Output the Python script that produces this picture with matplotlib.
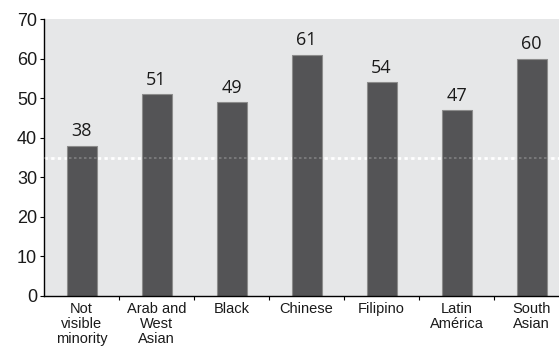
import numpy as np
import matplotlib.pyplot as plt

categories = ["Not\nvisible\nminority", "Arab and\nWest\nAsian", "Black", "Chinese",
              "Filipino", "Latin\nAmérica", "South\nAsian"]
values = [38, 51, 49, 61, 54, 47, 60]
reference_level = 35
yticks = [0, 10, 20, 30, 40, 50, 60, 70]

plt.rcParams['font.family'] = ['Liberation Sans', 'DejaVu Sans']

fig = plt.figure(figsize=(5.59, 3.49), dpi=100)
# axes run slightly past the right edge of the figure
ax = fig.add_axes([44 / 559, 53 / 349, 525 / 559, 277 / 349])
ax.set_facecolor('#e6e7e8')

x = np.arange(len(categories))
ax.axhline(reference_level, color='white', lw=2, ls=(0, (1.2, 1.2)), zorder=1)
bars = ax.bar(x, values, width=0.4, color='#545456', edgecolor='#8c8c8c',
              linewidth=0.8, zorder=2)
ax.axhline(reference_level, color='white', lw=1.2, ls=(0, (1.5, 1.5)),
           alpha=0.25, zorder=3)

for xi, v in zip(x, values):
    ax.text(xi, v + 1.3, str(v), ha='center', va='bottom', fontsize=13,
            color='#1a1a1a', family=['Open Sans', 'DejaVu Sans'])

ax.set_xlim(-0.5, len(categories) - 0.5)
ax.set_ylim(0, 70)
ax.set_yticks(yticks)
ax.tick_params(axis='y', labelsize=13, length=3, width=0.8, pad=2,
               labelcolor='#1a1a1a')

ax.set_xticks(x)
ax.set_xticklabels(categories, fontsize=10.5, linespacing=1.1, color='#1a1a1a')
ax.set_xticks(np.arange(len(categories)) + 0.5, minor=True)
ax.tick_params(axis='x', which='major', length=0, pad=4)
ax.tick_params(axis='x', which='minor', length=3, width=0.8)

for side in ['top', 'right']:
    ax.spines[side].set_visible(False)
for side in ['left', 'bottom']:
    ax.spines[side].set_linewidth(1)

fig.savefig('out.png', dpi=100)
